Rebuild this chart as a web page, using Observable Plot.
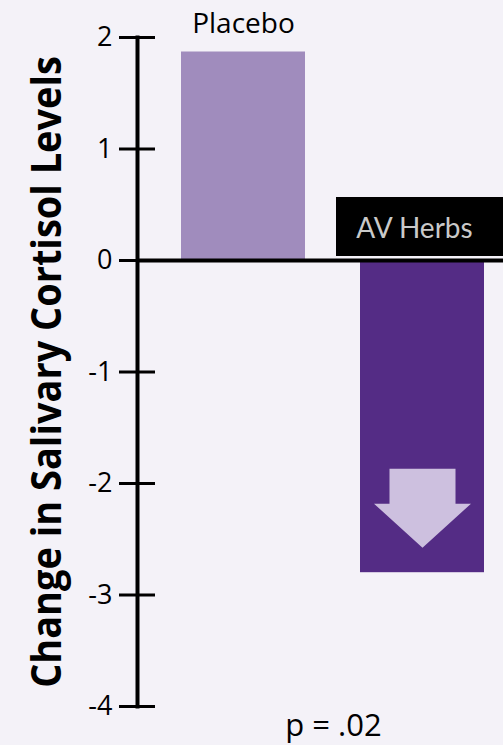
<!DOCTYPE html>
<html><head><meta charset="utf-8">
<script src="https://cdn.jsdelivr.net/npm/d3@7"></script>
<script src="https://cdn.jsdelivr.net/npm/@observablehq/plot@0.6"></script>
<style>html,body{margin:0;padding:0;background:#f4f2f8;overflow:hidden;}</style>
</head><body><div id="chart"></div>
<script>
const groups = ["Placebo", "AV Herbs"];
const changes = [1.87, -2.8];
const barColors = ["#a08cbd", "#542c85"];
const yTicks = [2, 1, 0, -1, -2, -3, -4];
const yLabel = "Change in Salivary Cortisol Levels";
const pValue = "p = .02";

const data = groups.map((g, i) => ({group: g, change: changes[i], color: barColors[i]}));
const placebo = data.filter(d => d.change > 0);
const herbs = data.filter(d => d.change < 0);

// down-arrow glyph (unit r = 40)
const arrowSymbol = {
  draw(context, size) {
    const k = Math.sqrt(size / Math.PI) / 40;
    const pts = [[-33,-39.5],[33,-39.5],[33,-4.5],[48.5,-4.5],[0,39.5],[-48.5,-4.5],[-33,-4.5]];
    context.moveTo(pts[0][0]*k, pts[0][1]*k);
    for (const [px, py] of pts.slice(1)) context.lineTo(px*k, py*k);
    context.closePath();
  }
};

const plot = Plot.plot({
  width: 503,
  height: 745,
  marginTop: 37,
  marginBottom: 39,
  marginLeft: 137,
  marginRight: 0,
  style: {background: "#f4f2f8", fontFamily: "'Open Sans', sans-serif", color: "black"},
  x: {domain: groups, range: [180, 484], paddingInner: 0.31, paddingOuter: 0, axis: null},
  y: {domain: [-4, 2]},
  marks: [
    Plot.barY(data, {x: "group", y: "change", fill: "color"}),
    Plot.barY(herbs, {x: "group", y1: 0, y2: 0, insetTop: -63, insetBottom: 4, insetLeft: -24, insetRight: -19, fill: "black"}),
    Plot.text(herbs, {x: "group", y: 0, text: "group", lineAnchor: "bottom", dy: -23, dx: -8, fill: "#c9c9c9", fontSize: 28, fontFamily: "Lato, sans-serif"}),
    Plot.text(placebo, {x: "group", y: "change", text: "group", lineAnchor: "bottom", dy: -19, fill: "black", fontSize: 28}),
    Plot.dot(herbs, {x: "group", y: "change", symbol: arrowSymbol, r: 40, fill: "#cdc0df", stroke: null, dy: -64.5}),
    Plot.ruleY([0], {stroke: "black", strokeWidth: 4}),
    Plot.frame({anchor: "left", stroke: "black", strokeWidth: 4}),
    Plot.axisY({ticks: yTicks, tickSize: 36, dx: 18, tickFormat: () => "", label: null, stroke: "black", strokeWidth: 3}),
    Plot.axisY({ticks: yTicks, tickSize: 0, tickPadding: 25, tickFormat: d => String(d), label: null, fontSize: 27, fill: "black"}),
    Plot.text([yLabel], {frameAnchor: "left", textAnchor: "middle", rotate: -90, dx: -90, lineAnchor: "middle", fontSize: 42, fontWeight: "bold", fill: "black"}),
    Plot.text([pValue], {frameAnchor: "bottom", lineAnchor: "bottom", dy: 29, dx: 13, fontSize: 31, fill: "black"})
  ]
});

document.getElementById("chart").appendChild(plot);

// condense the bold axis title to the reference's length
const labelNode = Array.from(plot.querySelectorAll("text")).find(t => t.textContent.includes("Salivary"));
if (labelNode) {
  const len = labelNode.getComputedTextLength();
  if (len > 0) {
    const sx = 632 / len;
    const tr = labelNode.getAttribute("transform") || "";
    labelNode.setAttribute("transform", tr + ` scale(${sx},1)`);
  }
}
</script>
</body></html>
